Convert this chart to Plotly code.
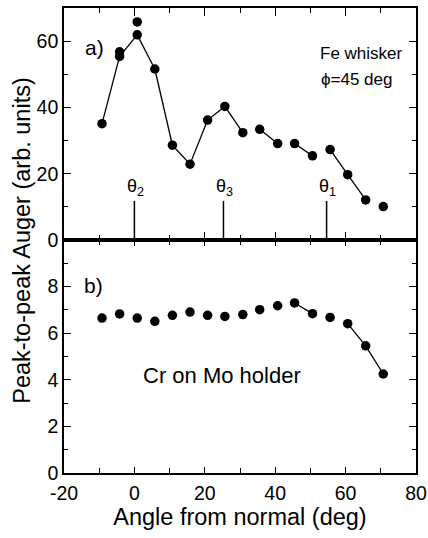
import plotly.graph_objects as go

# ---- data ----
angle = [-9.2, -4.2, 0.8, 5.8, 10.8, 15.8, 20.8, 25.7, 30.8, 35.6, 40.7, 45.5, 50.6, 55.6, 60.6, 65.7, 70.7]
fe_auger = [35.1, 55.4, 61.9, 51.6, 28.6, 22.9, 36.2, 40.3, 32.4, 33.4, 29.1, 29.1, 25.4, 27.3, 19.7, 12.1, 10.1]
# segments joined by a line (Origin gap style): True = line drawn to next point
fe_joined = [True, True, True, True, True, True, True, True, False, True, False, True, False, True, True, False]

fe_extra_angle = [-4.2, 0.8]
fe_extra_auger = [56.8, 65.8]

cr_auger = [6.65, 6.83, 6.65, 6.51, 6.77, 6.91, 6.77, 6.72, 6.80, 7.01, 7.18, 7.30, 6.84, 6.68, 6.41, 5.46, 4.25]
cr_joined = [False, False, False, False, False, False, False, False, False, False, False, True, False, False, True, True]

theta_angle = [0.0, 25.3, 54.6]
theta_label = ["θ<sub>2</sub>", "θ<sub>3</sub>", "θ<sub>1</sub>"]
theta_line_top = 11.8

x_ticks = [-20, 0, 20, 40, 60, 80]
x_tick_text = ["-20", "0", "20", "40", "60", "80"]
ya_ticks = [0, 20, 40, 60]
yb_ticks = [0, 2, 4, 6, 8]

FONT = "Arial, Liberation Sans, Helvetica, sans-serif"


def segments(xs, ys, joined):
    sx, sy = [], []
    for i, j in enumerate(joined):
        if j:
            sx += [xs[i], xs[i + 1], None]
            sy += [ys[i], ys[i + 1], None]
    return sx, sy


fig = go.Figure()

MS = 9.5
# panel a
sx, sy = segments(angle, fe_auger, fe_joined)
fig.add_trace(go.Scatter(x=sx, y=sy, mode="lines", line=dict(color="black", width=1.3),
                         xaxis="x2", yaxis="y2", hoverinfo="skip"))
fig.add_trace(go.Scatter(x=angle, y=fe_auger, mode="markers",
                         marker=dict(color="black", size=MS), xaxis="x2", yaxis="y2"))
fig.add_trace(go.Scatter(x=fe_extra_angle, y=fe_extra_auger, mode="markers",
                         marker=dict(color="black", size=MS), xaxis="x2", yaxis="y2"))
tx, ty = [], []
for a in theta_angle:
    tx += [a, a, None]
    ty += [0, theta_line_top, None]
fig.add_trace(go.Scatter(x=tx, y=ty, mode="lines", line=dict(color="black", width=1.5),
                         xaxis="x2", yaxis="y2", hoverinfo="skip"))

# panel b
sx, sy = segments(angle, cr_auger, cr_joined)
fig.add_trace(go.Scatter(x=sx, y=sy, mode="lines", line=dict(color="black", width=1.3),
                         xaxis="x", yaxis="y", hoverinfo="skip"))
fig.add_trace(go.Scatter(x=angle, y=cr_auger, mode="markers",
                         marker=dict(color="black", size=MS), xaxis="x", yaxis="y"))

ax_common = dict(showline=True, linecolor="black", linewidth=1.6, ticks="inside",
                 tickcolor="black", tickwidth=1.3, mirror="ticks", showgrid=False,
                 zeroline=False, automargin=False,
                 tickfont=dict(family=FONT, size=19.5, color="black"))

split = 0.501
fig.update_layout(
    template="none",
    width=428, height=538,
    margin=dict(l=64, r=12, t=8, b=65),
    paper_bgcolor="white", plot_bgcolor="white",
    showlegend=False,
    font=dict(family=FONT, color="black"),
    xaxis=dict(range=[-20, 80], tickvals=x_ticks, ticktext=x_tick_text, ticklen=6,
               ticklabelstandoff=2,
               minor=dict(dtick=10, tick0=0, ticklen=5, ticks="inside", tickcolor="black"),
               title=dict(text="Angle from normal (deg)", font=dict(size=23.5), standoff=4),
               anchor="y", **ax_common),
    xaxis2=dict(range=[-20, 80], tickvals=x_ticks, ticklen=8, showticklabels=False,
                minor=dict(dtick=10, tick0=0, ticklen=5, ticks="inside", tickcolor="black"),
                anchor="y2", matches="x", **ax_common),
    yaxis=dict(domain=[0, split], range=[0, 10], tickvals=yb_ticks, ticklen=7,
               minor=dict(dtick=1, tick0=0, ticklen=4, ticks="inside", tickcolor="black"),
               anchor="x", **ax_common),
    yaxis2=dict(domain=[split, 1], range=[0, 70], tickvals=ya_ticks, ticklen=7,
                minor=dict(dtick=10, tick0=0, ticklen=4, ticks="inside", tickcolor="black"),
                anchor="x2", **ax_common),
)

ann = []
ann.append(dict(text="Peak-to-peak Auger (arb. units)", xref="paper", yref="paper",
                x=-0.12, y=split, textangle=-90, showarrow=False,
                font=dict(size=23.5), xanchor="center", yanchor="middle"))
ann.append(dict(text="a)", xref="x2", yref="y2", x=-11.3, y=58.2, showarrow=False, font=dict(size=21)))
ann.append(dict(text="Fe whisker", xref="x2", yref="y2", x=64.6, y=56.4, showarrow=False, font=dict(size=17)))
ann.append(dict(text="ϕ=45 deg", xref="x2", yref="y2", x=63.0, y=48.3, showarrow=False, font=dict(size=17)))
for a, lab in zip(theta_angle, theta_label):
    ann.append(dict(text=lab, xref="x2", yref="y2", x=a, y=theta_line_top, yanchor="bottom",
                    showarrow=False, font=dict(size=18), xshift=1))
ann.append(dict(text="b)", xref="x", yref="y", x=-11.5, y=8.06, showarrow=False, font=dict(size=21)))
ann.append(dict(text="Cr on Mo holder", xref="x", yref="y", x=25.0, y=4.2, showarrow=False, font=dict(size=22)))
fig.update_layout(annotations=ann)

# remove the default 8px page margin so the 428x538 figure fills the window exactly
fig.write_html("out.html", config={"displayModeBar": False},
               post_script="document.body.style.margin='0';document.body.style.overflow='hidden';")
